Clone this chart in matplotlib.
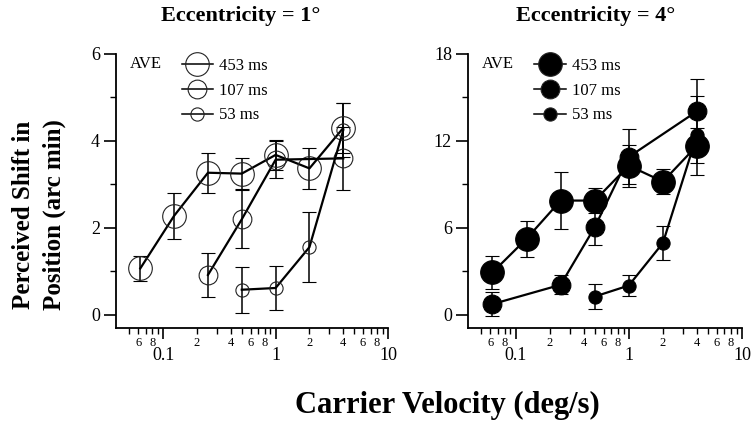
import matplotlib
matplotlib.use("Agg")
import matplotlib.pyplot as plt
from matplotlib.lines import Line2D
from matplotlib.ticker import FixedLocator, FuncFormatter, NullFormatter

plt.rcParams["font.family"] = ["Liberation Serif", "DejaVu Serif"]

# carrier velocity (deg/s) and perceived shift (arc min)
# eccentricity = 1 deg
e1_453_x = [0.0625, 0.125, 0.25, 0.5, 1, 2, 4]
e1_453_y = [1.07, 2.28, 3.27, 3.25, 3.68, 3.37, 4.3]
e1_453_err = [0.29, 0.53, 0.46, 0.35, 0.35, 0.47, 0.57]
e1_107_x = [0.25, 0.5, 1, 4]
e1_107_y = [0.92, 2.2, 3.57, 3.6]
e1_107_err = [0.5, 0.67, 0.42, 0.73]
e1_53_x = [0.5, 1, 2, 4]
e1_53_y = [0.58, 0.62, 1.56, 4.25]
e1_53_err = [0.53, 0.5, 0.8, 0.62]

# eccentricity = 4 deg
e4_453_x = [0.0625, 0.125, 0.25, 0.5, 1, 2, 4]
e4_453_y = [2.93, 5.26, 7.89, 7.89, 10.3, 9.2, 11.68]
e4_453_err = [1.15, 1.23, 1.95, 0.88, 1.45, 0.85, 1.2]
e4_107_x = [0.0625, 0.25, 0.5, 1, 4]
e4_107_y = [0.75, 2.08, 6.05, 10.9, 14.05]
e4_107_err = [0.8, 0.65, 1.25, 1.9, 2.2]
e4_53_x = [0.5, 1, 2, 4]
e4_53_y = [1.27, 2.03, 4.96, 12.4]
e4_53_err = [0.88, 0.75, 1.2, 2.72]

durations = ["453 ms", "107 ms", "53 ms"]
marker_sizes = [17, 13.5, 9.5]

major_x = [0.1, 1, 10]
minor_x = [0.05, 0.06, 0.07, 0.08, 0.09, 0.2, 0.3, 0.4, 0.5, 0.6, 0.7, 0.8, 0.9,
           2, 3, 4, 5, 6, 7, 8, 9]
minor_labelled = [0.06, 0.08, 0.2, 0.4, 0.6, 0.8, 2, 4, 6, 8]


def minor_fmt(v, pos):
    # only the leading digit is printed under the labelled minor ticks
    for m in minor_labelled:
        if abs(v - m) < 1e-9:
            return ("%g" % m).replace("0.", "").lstrip("0")
    return ""


def style_axes(ax, ymax, ystep):
    ax.set_xscale("log")
    ax.set_xlim(0.038, 10)
    ax.set_ylim(-ymax * 0.05, ymax)
    ax.spines["top"].set_visible(False)
    ax.spines["right"].set_visible(False)
    ax.spines["left"].set_linewidth(1.3)
    ax.spines["bottom"].set_linewidth(1.3)
    ax.xaxis.set_major_locator(FixedLocator(major_x))
    ax.xaxis.set_major_formatter(FuncFormatter(lambda v, p: "%g" % v))
    ax.xaxis.set_minor_locator(FixedLocator(minor_x))
    ax.xaxis.set_minor_formatter(FuncFormatter(minor_fmt))
    ax.set_yticks([i * ystep for i in range(4)])
    ax.set_yticks([ystep / 2 + i * ystep for i in range(3)], minor=True)
    ax.yaxis.set_minor_formatter(NullFormatter())
    ax.tick_params(axis="x", which="major", length=8, width=1.2, labelsize=13, pad=6)
    ax.tick_params(axis="x", which="minor", length=4, width=1.0, labelsize=9, pad=2.5)
    ax.tick_params(axis="y", which="major", length=8.5, width=1.2, labelsize=13, pad=3)
    ax.tick_params(axis="y", which="minor", length=4.5, width=1.0)


def draw_panel(ax, series, filled):
    for (x, y, err), ms in zip(series, marker_sizes):
        face = "black" if filled else "none"
        ax.errorbar(x, y, yerr=err, color="black", lw=1.6, elinewidth=1.1,
                    capsize=5, capthick=1.1, marker="o", ms=ms,
                    mfc=face, mec="#222222" if not filled else "black",
                    mew=0.8, zorder=3)
    handles = [Line2D([], [], color="black", lw=1.1, marker="o", ms=ms,
                      mfc="black" if filled else "none", mec="#222222", mew=0.8)
               for ms in marker_sizes]
    ax.legend(handles, durations, loc="upper left", bbox_to_anchor=(0.241, 0.985),
              frameon=False, fontsize=12, handlelength=1.9, handletextpad=0.35,
              labelspacing=0.52, borderpad=0, borderaxespad=0)
    ax.text(0.052, 0.965, "AVE", transform=ax.transAxes, fontsize=12,
            va="center", ha="left")


fig = plt.figure(figsize=(7.52, 4.28), dpi=100)
ax1 = fig.add_axes([116 / 752, 1 - 328 / 428, 272 / 752, 274 / 428])
ax2 = fig.add_axes([468 / 752, 1 - 328 / 428, 274 / 752, 274 / 428])

draw_panel(ax1, [(e1_453_x, e1_453_y, e1_453_err),
                 (e1_107_x, e1_107_y, e1_107_err),
                 (e1_53_x, e1_53_y, e1_53_err)], filled=False)
draw_panel(ax2, [(e4_453_x, e4_453_y, e4_453_err),
                 (e4_107_x, e4_107_y, e4_107_err),
                 (e4_53_x, e4_53_y, e4_53_err)], filled=True)
style_axes(ax1, 6, 2)
style_axes(ax2, 18, 6)

fig.text(241 / 752, 1 - 16 / 428, "Eccentricity = 1°", ha="center", va="center",
         fontsize=16, fontweight="bold")
fig.text(596 / 752, 1 - 16 / 428, "Eccentricity = 4°", ha="center", va="center",
         fontsize=16, fontweight="bold")
fig.text(39 / 752, 1 - 215 / 428, "Perceived Shift in\nPosition (arc min)",
         rotation=90, ha="center", va="center", fontsize=18, fontweight="bold",
         linespacing=1.4)
fig.text(447 / 752, 1 - 405 / 428, "Carrier Velocity (deg/s)", ha="center",
         va="center", fontsize=22, fontweight="bold")

fig.savefig("out.png", dpi=100)
